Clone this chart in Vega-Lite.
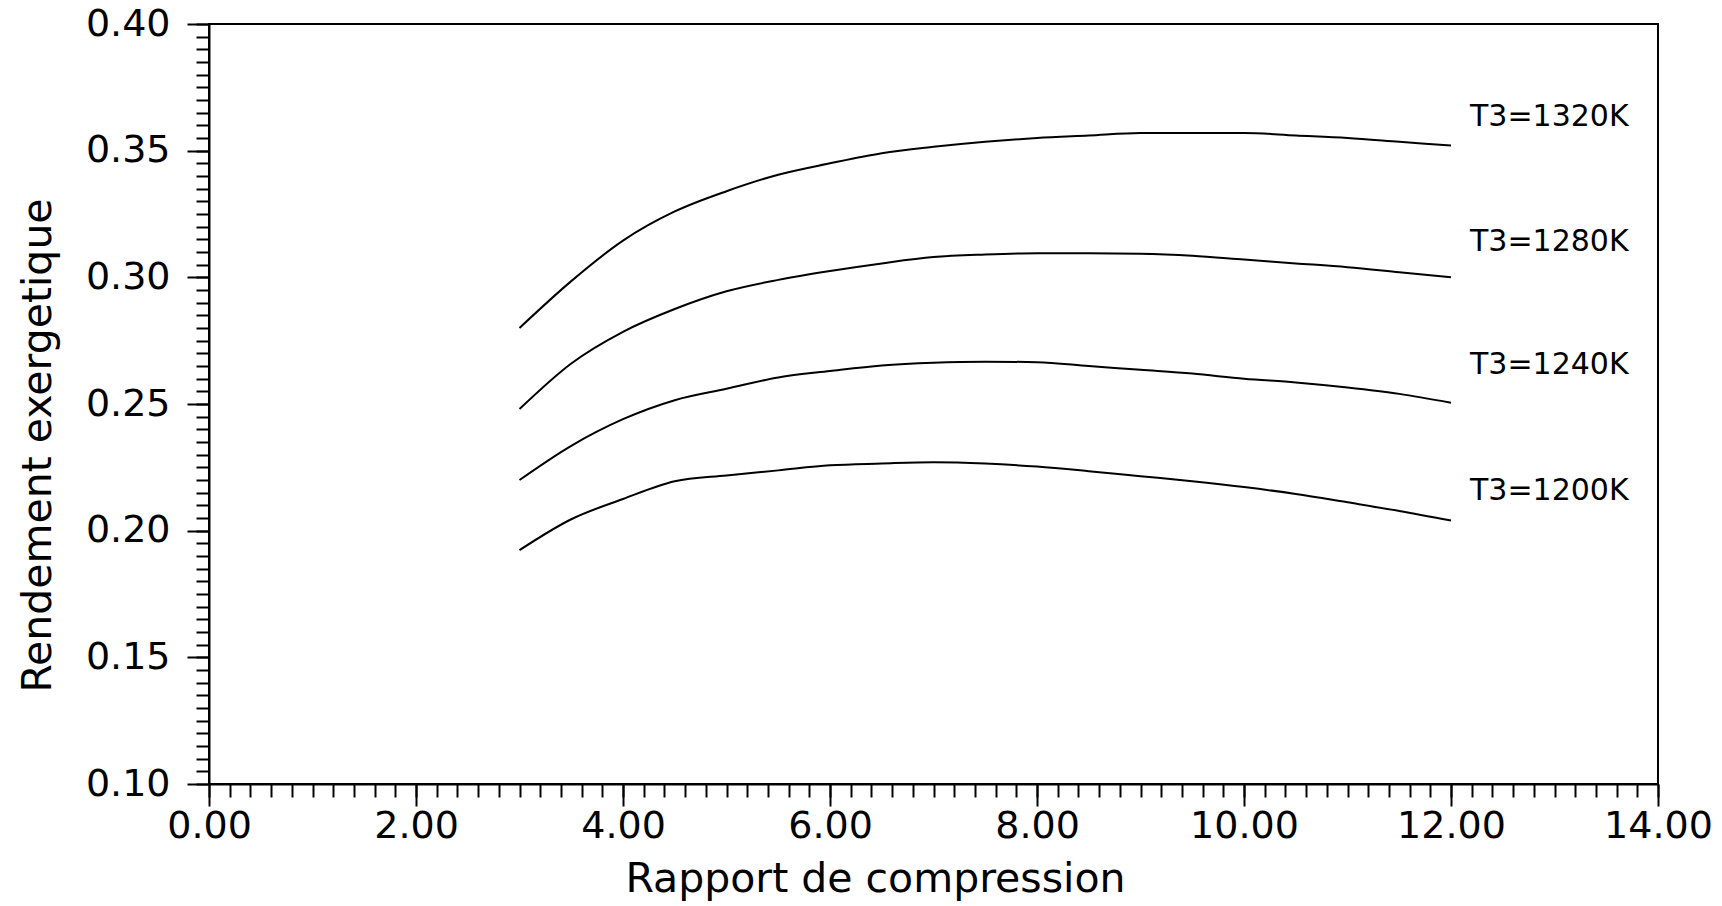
{
  "$schema": "https://vega.github.io/schema/vega-lite/v6.json",
  "width": 1449,
  "height": 760,
  "autosize": {"type": "none"},
  "padding": {"left": 209, "top": 24, "right": 64, "bottom": 122},
  "background": "white",
  "config": {
    "view": {"stroke": "black", "strokeWidth": 2},
    "font": "DejaVu Sans"
  },
  "datasets": {
    "curves": [
      {"T3": "1320K", "rapport": 3.0, "rendement": 0.280},
      {"T3": "1320K", "rapport": 3.5, "rendement": 0.2985},
      {"T3": "1320K", "rapport": 4.0, "rendement": 0.3145},
      {"T3": "1320K", "rapport": 4.5, "rendement": 0.326},
      {"T3": "1320K", "rapport": 5.0, "rendement": 0.334},
      {"T3": "1320K", "rapport": 5.5, "rendement": 0.3405},
      {"T3": "1320K", "rapport": 6.0, "rendement": 0.345},
      {"T3": "1320K", "rapport": 6.5, "rendement": 0.349},
      {"T3": "1320K", "rapport": 7.0, "rendement": 0.3515},
      {"T3": "1320K", "rapport": 7.5, "rendement": 0.3535},
      {"T3": "1320K", "rapport": 8.0, "rendement": 0.355},
      {"T3": "1320K", "rapport": 8.5, "rendement": 0.356},
      {"T3": "1320K", "rapport": 9.0, "rendement": 0.357},
      {"T3": "1320K", "rapport": 9.5, "rendement": 0.357},
      {"T3": "1320K", "rapport": 10.0, "rendement": 0.357},
      {"T3": "1320K", "rapport": 10.5, "rendement": 0.356},
      {"T3": "1320K", "rapport": 11.0, "rendement": 0.355},
      {"T3": "1320K", "rapport": 11.5, "rendement": 0.3535},
      {"T3": "1320K", "rapport": 12.0, "rendement": 0.352},
      {"T3": "1280K", "rapport": 3.0, "rendement": 0.248},
      {"T3": "1280K", "rapport": 3.5, "rendement": 0.266},
      {"T3": "1280K", "rapport": 4.0, "rendement": 0.2785},
      {"T3": "1280K", "rapport": 4.5, "rendement": 0.2875},
      {"T3": "1280K", "rapport": 5.0, "rendement": 0.2945},
      {"T3": "1280K", "rapport": 5.5, "rendement": 0.299},
      {"T3": "1280K", "rapport": 6.0, "rendement": 0.3025},
      {"T3": "1280K", "rapport": 6.5, "rendement": 0.3055},
      {"T3": "1280K", "rapport": 7.0, "rendement": 0.308},
      {"T3": "1280K", "rapport": 7.5, "rendement": 0.309},
      {"T3": "1280K", "rapport": 8.0, "rendement": 0.3095},
      {"T3": "1280K", "rapport": 8.5, "rendement": 0.3095},
      {"T3": "1280K", "rapport": 9.0, "rendement": 0.3093},
      {"T3": "1280K", "rapport": 9.5, "rendement": 0.3085},
      {"T3": "1280K", "rapport": 10.0, "rendement": 0.307},
      {"T3": "1280K", "rapport": 10.5, "rendement": 0.3055},
      {"T3": "1280K", "rapport": 11.0, "rendement": 0.304},
      {"T3": "1280K", "rapport": 11.5, "rendement": 0.302},
      {"T3": "1280K", "rapport": 12.0, "rendement": 0.300},
      {"T3": "1240K", "rapport": 3.0, "rendement": 0.220},
      {"T3": "1240K", "rapport": 3.5, "rendement": 0.2335},
      {"T3": "1240K", "rapport": 4.0, "rendement": 0.244},
      {"T3": "1240K", "rapport": 4.5, "rendement": 0.2515},
      {"T3": "1240K", "rapport": 5.0, "rendement": 0.256},
      {"T3": "1240K", "rapport": 5.5, "rendement": 0.2605},
      {"T3": "1240K", "rapport": 6.0, "rendement": 0.263},
      {"T3": "1240K", "rapport": 6.5, "rendement": 0.2652},
      {"T3": "1240K", "rapport": 7.0, "rendement": 0.2663},
      {"T3": "1240K", "rapport": 7.5, "rendement": 0.2667},
      {"T3": "1240K", "rapport": 8.0, "rendement": 0.2665},
      {"T3": "1240K", "rapport": 8.5, "rendement": 0.265},
      {"T3": "1240K", "rapport": 9.0, "rendement": 0.2635},
      {"T3": "1240K", "rapport": 9.5, "rendement": 0.262},
      {"T3": "1240K", "rapport": 10.0, "rendement": 0.260},
      {"T3": "1240K", "rapport": 10.5, "rendement": 0.2585},
      {"T3": "1240K", "rapport": 11.0, "rendement": 0.2565},
      {"T3": "1240K", "rapport": 11.5, "rendement": 0.254},
      {"T3": "1240K", "rapport": 12.0, "rendement": 0.2505},
      {"T3": "1200K", "rapport": 3.0, "rendement": 0.1923},
      {"T3": "1200K", "rapport": 3.5, "rendement": 0.2045},
      {"T3": "1200K", "rapport": 4.0, "rendement": 0.2125},
      {"T3": "1200K", "rapport": 4.5, "rendement": 0.2195},
      {"T3": "1200K", "rapport": 5.0, "rendement": 0.2218},
      {"T3": "1200K", "rapport": 5.5, "rendement": 0.2238},
      {"T3": "1200K", "rapport": 6.0, "rendement": 0.2258},
      {"T3": "1200K", "rapport": 6.5, "rendement": 0.2265},
      {"T3": "1200K", "rapport": 7.0, "rendement": 0.227},
      {"T3": "1200K", "rapport": 7.5, "rendement": 0.2265},
      {"T3": "1200K", "rapport": 8.0, "rendement": 0.2253},
      {"T3": "1200K", "rapport": 8.5, "rendement": 0.2235},
      {"T3": "1200K", "rapport": 9.0, "rendement": 0.2215},
      {"T3": "1200K", "rapport": 9.5, "rendement": 0.2195},
      {"T3": "1200K", "rapport": 10.0, "rendement": 0.2172},
      {"T3": "1200K", "rapport": 10.5, "rendement": 0.2145},
      {"T3": "1200K", "rapport": 11.0, "rendement": 0.2112},
      {"T3": "1200K", "rapport": 11.5, "rendement": 0.2078},
      {"T3": "1200K", "rapport": 12.0, "rendement": 0.204}
    ],
    "labels": [
      {"label": "T3=1320K", "rapport": 12.95, "rendement": 0.3633},
      {"label": "T3=1280K", "rapport": 12.95, "rendement": 0.3140},
      {"label": "T3=1240K", "rapport": 12.95, "rendement": 0.2655},
      {"label": "T3=1200K", "rapport": 12.95, "rendement": 0.2155}
    ]
  },
  "layer": [
    {
      "data": {"name": "curves"},
      "mark": {"type": "line", "strokeOpacity": 0},
      "encoding": {
        "x": {
          "field": "rapport", "type": "quantitative",
          "scale": {"domain": [0, 14], "nice": false, "zero": false},
          "axis": {
            "orient": "bottom",
            "values": [0,0.2,0.4,0.6,0.8,1,1.2,1.4,1.6,1.8,2,2.2,2.4,2.6,2.8,3,3.2,3.4,3.6,3.8,4,4.2,4.4,4.6,4.8,5,5.2,5.4,5.6,5.8,6,6.2,6.4,6.6,6.8,7,7.2,7.4,7.6,7.8,8,8.2,8.4,8.6,8.8,9,9.2,9.4,9.6,9.8,10,10.2,10.4,10.6,10.8,11,11.2,11.4,11.6,11.8,12,12.2,12.4,12.6,12.8,13,13.2,13.4,13.6,13.8,14],
            "labels": false, "domain": false, "grid": false, "title": null,
            "tickSize": 13, "tickWidth": 2, "tickColor": "black"
          }
        },
        "y": {
          "field": "rendement", "type": "quantitative",
          "scale": {"domain": [0.1, 0.4], "nice": false, "zero": false},
          "axis": {
            "orient": "left",
            "values": [0.1,0.105,0.11,0.115,0.12,0.125,0.13,0.135,0.14,0.145,0.15,0.155,0.16,0.165,0.17,0.175,0.18,0.185,0.19,0.195,0.2,0.205,0.21,0.215,0.22,0.225,0.23,0.235,0.24,0.245,0.25,0.255,0.26,0.265,0.27,0.275,0.28,0.285,0.29,0.295,0.3,0.305,0.31,0.315,0.32,0.325,0.33,0.335,0.34,0.345,0.35,0.355,0.36,0.365,0.37,0.375,0.38,0.385,0.39,0.395,0.4],
            "labels": false, "domain": false, "grid": false, "title": null,
            "tickSize": 13, "tickWidth": 2, "tickColor": "black"
          }
        },
        "detail": {"field": "T3", "type": "nominal"}
      }
    },
    {
      "data": {"name": "curves"},
      "mark": {"type": "line", "color": "black", "strokeWidth": 2, "interpolate": "monotone"},
      "encoding": {
        "x": {
          "field": "rapport", "type": "quantitative",
          "scale": {"domain": [0, 14], "nice": false, "zero": false},
          "axis": {
            "orient": "bottom",
            "values": [0, 2, 4, 6, 8, 10, 12, 14],
            "format": ".2f",
            "grid": false,
            "labelFlush": false, "labelOverlap": false,
            "tickSize": 22, "tickWidth": 2, "tickColor": "black",
            "domainColor": "black", "domainWidth": 2,
            "labelFontSize": 38, "labelColor": "black", "labelPadding": 1,
            "labelFont": "DejaVu Sans",
            "title": "Rapport de compression",
            "titleFont": "DejaVu Sans", "titleFontSize": 41, "titleFontWeight": "normal", "titleColor": "black",
            "titleX": 666, "titleY": 107, "titleBaseline": "alphabetic", "titleAlign": "center"
          }
        },
        "y": {
          "field": "rendement", "type": "quantitative",
          "scale": {"domain": [0.1, 0.4], "nice": false, "zero": false},
          "axis": {
            "orient": "left",
            "values": [0.1, 0.15, 0.2, 0.25, 0.3, 0.35, 0.4],
            "format": ".2f",
            "grid": false,
            "labelFlush": false, "labelOverlap": false,
            "tickSize": 22, "tickWidth": 2, "tickColor": "black",
            "domainColor": "black", "domainWidth": 2,
            "labelFontSize": 38, "labelColor": "black", "labelPadding": 17,
            "labelFont": "DejaVu Sans",
            "title": "Rendement exergetique",
            "titleFont": "DejaVu Sans", "titleFontSize": 41, "titleFontWeight": "normal", "titleColor": "black",
            "titleAngle": -90, "titleX": -171, "titleY": 421, "titleBaseline": "middle", "titleAlign": "center"
          }
        },
        "detail": {"field": "T3", "type": "nominal"}
      }
    },
    {
      "data": {"name": "labels"},
      "mark": {"type": "text", "font": "DejaVu Sans", "fontSize": 30, "color": "black", "align": "center", "baseline": "middle"},
      "encoding": {
        "x": {"field": "rapport", "type": "quantitative", "scale": {"domain": [0, 14], "nice": false, "zero": false}, "axis": null},
        "y": {"field": "rendement", "type": "quantitative", "scale": {"domain": [0.1, 0.4], "nice": false, "zero": false}, "axis": null},
        "text": {"field": "label", "type": "nominal"}
      }
    }
  ],
  "resolve": {"axis": {"x": "independent", "y": "independent"}}
}
